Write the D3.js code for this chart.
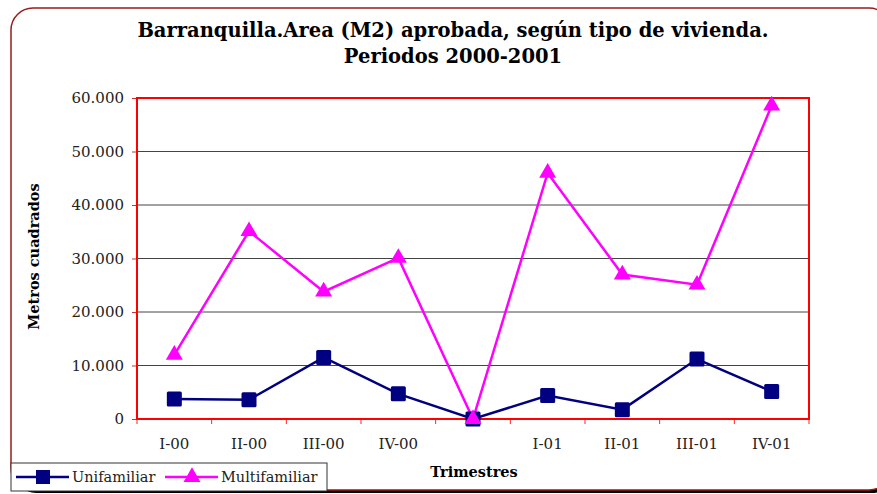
<!DOCTYPE html>
<html>
<head>
<meta charset="utf-8">
<script src="https://cdn.jsdelivr.net/npm/d3@7"></script>
<style>
  body { margin: 0; background: #fff; }
  svg { display: block; }
</style>
</head>
<body>
<div id="chart"></div>
<script>
// Data
const trimestres = ["I-00", "II-00", "III-00", "IV-00", "", "I-01", "II-01", "III-01", "IV-01"];
const unifamiliar = [3750, 3600, 11500, 4700, 0, 4400, 1750, 11200, 5150];
const multifamiliar = [12000, 35100, 23800, 30100, 0, 46000, 27000, 25100, 58600];
const yTicks = [0, 10000, 20000, 30000, 40000, 50000, 60000];

const W = 877, H = 494;
const plot = { left: 137, right: 809, top: 98, bottom: 419 };
const serif = '"DejaVu Serif", serif';

const svg = d3.select('#chart')
    .append('svg')
    .attr('width', W)
    .attr('height', H);

// outer frame with shadow
svg.append('rect')
    .attr('x', 14).attr('y', 11)
    .attr('width', 880).attr('height', 482)
    .attr('rx', 22).attr('ry', 22)
    .attr('fill', '#000');
svg.append('rect')
    .attr('x', 11).attr('y', 8)
    .attr('width', 880).attr('height', 482)
    .attr('rx', 22).attr('ry', 22)
    .attr('fill', '#fff')
    .attr('stroke', '#9b1c1c')
    .attr('stroke-width', 1.5);

// title
const title = svg.append('text')
    .attr('text-anchor', 'middle')
    .style('font-family', serif)
    .style('font-weight', 'bold')
    .style('font-size', '19.5px');
title.append('tspan').attr('x', 453).attr('y', 37).text('Barranquilla.Area (M2) aprobada, según tipo de vivienda.');
title.append('tspan').attr('x', 453).attr('y', 63).text('Periodos 2000-2001');

// scales
const x = d3.scaleBand()
    .domain(d3.range(trimestres.length))
    .range([plot.left, plot.right]);

const y = d3.scaleLinear()
    .domain([0, 60000])
    .range([plot.bottom, plot.top]);

const fmt = v => d3.format(',')(v).replace(/,/g, '.');

// gridlines
svg.append('g')
    .selectAll('line')
    .data(yTicks.slice(1, -1))
    .enter()
    .append('line')
    .attr('x1', plot.left).attr('x2', plot.right)
    .attr('y1', d => y(d)).attr('y2', d => y(d))
    .attr('stroke', '#444')
    .attr('stroke-width', 1);

// y axis
const yAxis = svg.append('g')
    .attr('transform', `translate(${plot.left},0)`)
    .call(d3.axisLeft(y).tickValues(yTicks).tickFormat(fmt).tickSize(5).tickPadding(8));
yAxis.select('.domain').remove();
yAxis.selectAll('line').attr('stroke', '#c0392b');
yAxis.selectAll('text')
    .style('font-family', serif)
    .style('font-size', '15px')
    .attr('fill', '#222');

// x axis ticks at band edges
const xAxis = svg.append('g')
    .attr('transform', `translate(0,${plot.bottom})`);
xAxis.selectAll('line')
    .data(d3.range(trimestres.length + 1))
    .enter()
    .append('line')
    .attr('x1', d => plot.left + d * x.bandwidth())
    .attr('x2', d => plot.left + d * x.bandwidth())
    .attr('y1', 0).attr('y2', 5)
    .attr('stroke', '#ff2020');
xAxis.selectAll('text')
    .data(trimestres)
    .enter()
    .append('text')
    .attr('x', (d, i) => x(i) + x.bandwidth() / 2)
    .attr('y', 30)
    .attr('text-anchor', 'middle')
    .style('font-family', serif)
    .style('font-size', '15px')
    .attr('fill', '#222')
    .text(d => d);

// plot frame
svg.append('rect')
    .attr('x', plot.left).attr('y', plot.top)
    .attr('width', plot.right - plot.left).attr('height', plot.bottom - plot.top)
    .attr('fill', 'none')
    .attr('stroke', '#ff0000')
    .attr('stroke-width', 2);

// axis titles
svg.append('text')
    .attr('transform', `translate(39, ${(plot.top + plot.bottom) / 2 - 2}) rotate(-90)`)
    .attr('text-anchor', 'middle')
    .style('font-family', serif)
    .style('font-weight', 'bold')
    .style('font-size', '14.5px')
    .text('Metros cuadrados');

svg.append('text')
    .attr('x', 474).attr('y', 477)
    .attr('text-anchor', 'middle')
    .style('font-family', serif)
    .style('font-weight', 'bold')
    .style('font-size', '14.5px')
    .text('Trimestres');

const cx = i => x(i) + x.bandwidth() / 2;
const line = d3.line().x((d, i) => cx(i)).y(d => y(d));

const triangle = d3.symbol().type(d3.symbolTriangle).size(125);

// Multifamiliar
svg.append('path')
    .datum(multifamiliar)
    .attr('d', line)
    .attr('fill', 'none')
    .attr('stroke', '#ff00ff')
    .attr('stroke-width', 2.5);

// Unifamiliar
svg.append('path')
    .datum(unifamiliar)
    .attr('d', line)
    .attr('fill', 'none')
    .attr('stroke', '#000080')
    .attr('stroke-width', 2.5);

svg.append('g')
    .selectAll('rect')
    .data(unifamiliar)
    .enter()
    .append('rect')
    .attr('x', (d, i) => cx(i) - 7.5)
    .attr('y', d => y(d) - 7.5)
    .attr('width', 15).attr('height', 15)
    .attr('rx', 1.5)
    .attr('fill', '#000080');

svg.append('g')
    .selectAll('path')
    .data(multifamiliar)
    .enter()
    .append('path')
    .attr('d', triangle)
    .attr('transform', (d, i) => `translate(${cx(i)},${y(d)})`)
    .attr('fill', '#ff00ff');

// legend
const legend = svg.append('g');
legend.append('rect')
    .attr('x', 11).attr('y', 463)
    .attr('width', 316).attr('height', 28)
    .attr('fill', '#fff')
    .attr('stroke', '#333')
    .attr('stroke-width', 1);

const legendItems = [
    { name: 'Unifamiliar', colour: '#000080', x0: 16, shape: 'square' },
    { name: 'Multifamiliar', colour: '#ff00ff', x0: 165, shape: 'triangle' }
];
legendItems.forEach(d => {
    const g = legend.append('g').attr('transform', `translate(${d.x0}, 477)`);
    g.append('line')
        .attr('x1', 0).attr('x2', 53)
        .attr('stroke', d.colour)
        .attr('stroke-width', 2.5);
    if (d.shape === 'square') {
        g.append('rect')
            .attr('x', 20).attr('y', -7)
            .attr('width', 14).attr('height', 14)
            .attr('fill', d.colour);
    } else {
        g.append('path')
            .attr('d', triangle)
            .attr('transform', 'translate(27,0)')
            .attr('fill', d.colour);
    }
    g.append('text')
        .attr('x', 56).attr('y', 5)
        .style('font-family', serif)
        .style('font-size', '14.5px')
        .attr('fill', '#222')
        .text(d.name);
});
</script>
</body>
</html>
